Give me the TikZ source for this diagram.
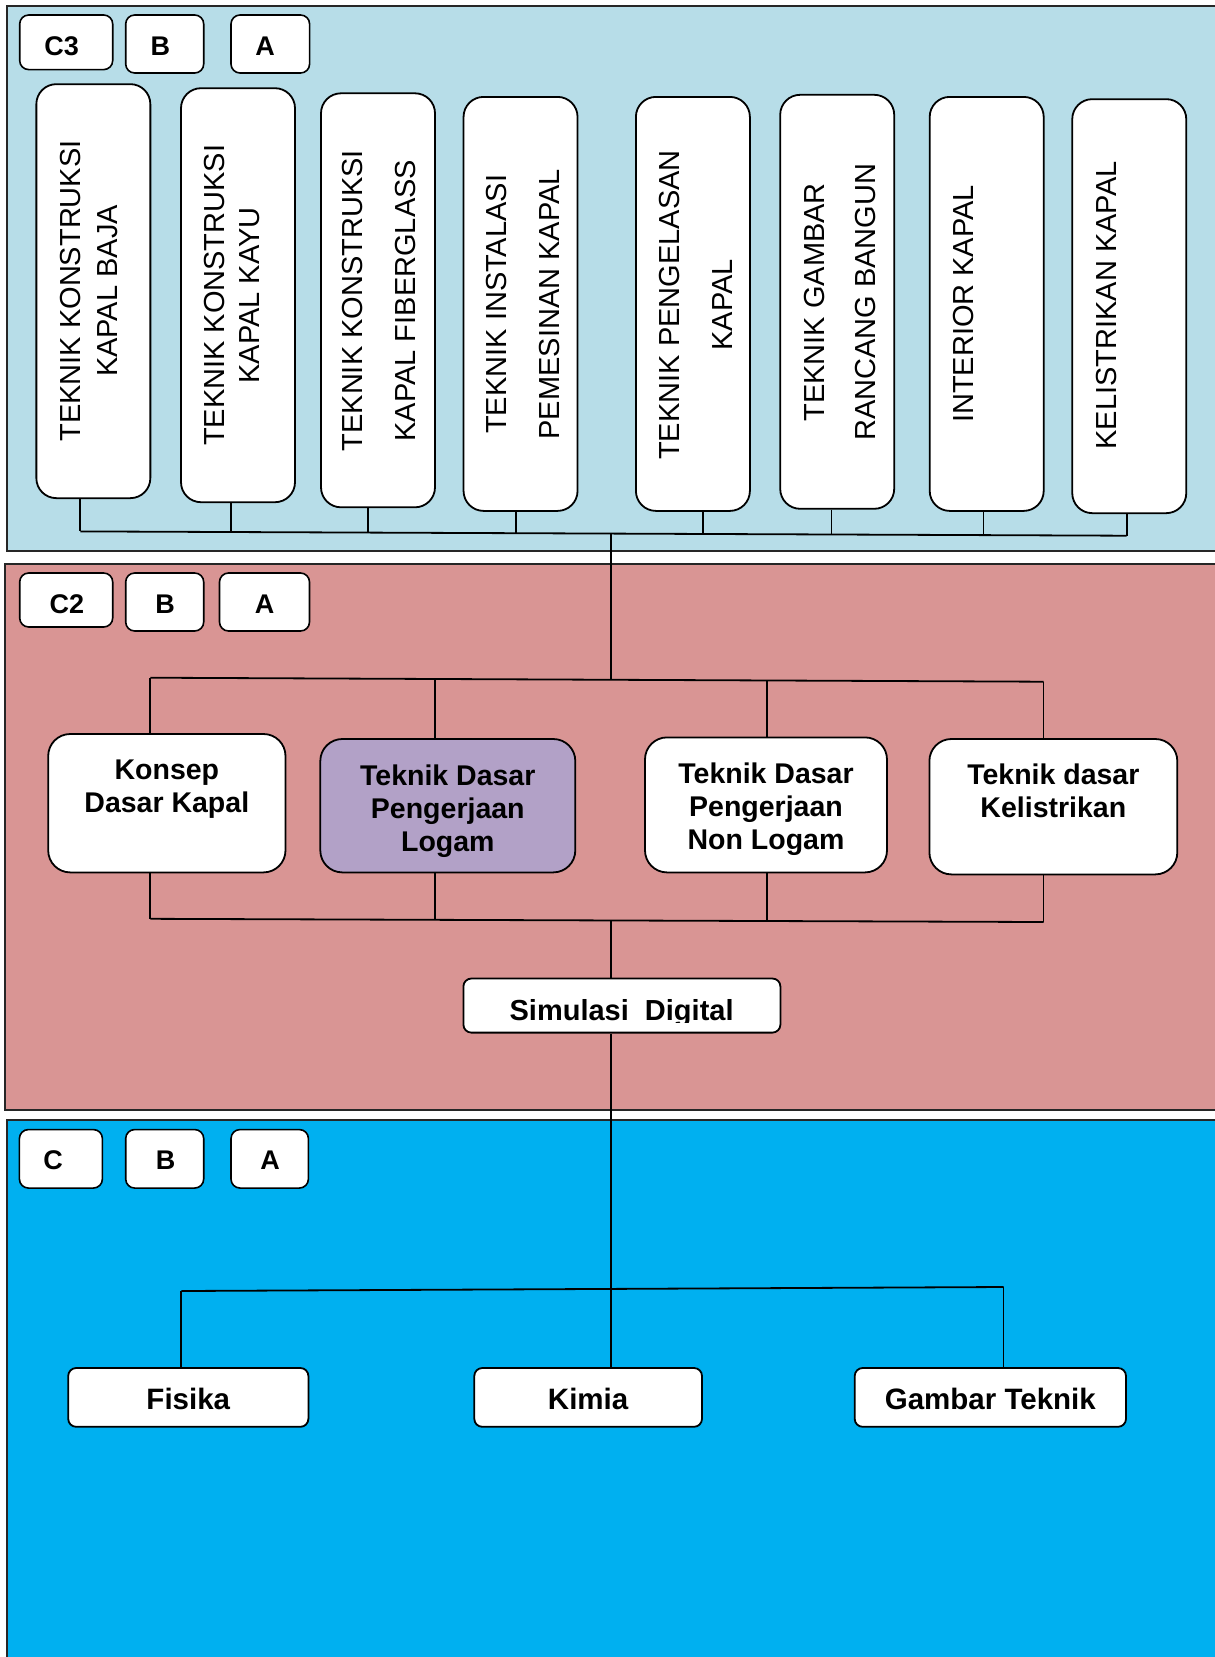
\documentclass[tikz,border=0pt]{standalone}
\usepackage{fontspec}
\setmainfont{Liberation Sans}
\usetikzlibrary{calc}
\definecolor{paneltop}{HTML}{B7DDE8}
\definecolor{panelmid}{HTML}{D99594}
\definecolor{panelbot}{HTML}{00B0F0}
\definecolor{lilac}{HTML}{B2A1C7}
\begin{document}
\begin{tikzpicture}[x=1pt,y=-1pt,
  panel/.style={draw=black!85, line width=2pt},
  lbl/.style={draw=black, line width=1.6pt, fill=white, rounded corners=9pt, inner sep=0pt},
  lbltext/.style={anchor=base, inner sep=0pt, font=\fontsize{27}{30}\selectfont\bfseries},
  tallbox/.style={draw=black, line width=1.8pt, fill=white, rounded corners=20pt, inner sep=0pt,
    minimum width=114pt, minimum height=414pt},
  vtext/.style={rotate=90, align=center, inner sep=0pt},
  midbox/.style={draw=black, line width=1.8pt, fill=white, rounded corners=22pt, inner sep=0pt},
  midtext/.style={align=center, inner sep=0pt, anchor=north, font=\fontsize{28.5}{33}\selectfont\bfseries},
  lowbox/.style={draw=black, line width=1.8pt, fill=white, rounded corners=8pt, inner sep=0pt,
    minimum height=58.8pt, text height=25pt, text depth=0pt, font=\fontsize{29.5}{33}\selectfont\bfseries},
  link/.style={draw=black, line width=1.8pt},
]
\useasboundingbox (0,0) rectangle (1215,1657);
\clip (0,0) rectangle (1215,1657);
\fill[white] (0,0) rectangle (1215,1657);

% panels
\path[panel, fill=paneltop] (7.4,5.7) rectangle (1225,551);
\path[panel, fill=panelmid] (5.3,564) rectangle (1225,1109.5);
\path[panel, fill=panelbot] (7.4,1120) rectangle (1225,1675);

% ---------- top panel ----------
\node[lbl, minimum width=93pt, minimum height=54.6pt] (c3) at (66.2,42.3) {};
\node[lbl, minimum width=78pt, minimum height=58pt] (b3) at (164.7,44) {};
\node[lbl, minimum width=78.6pt, minimum height=58pt] (a3) at (270.3,44) {};
\node[lbltext] (c3t) at (61.7,55.4) {C3};
\node[lbltext] (b3t) at (160.3,55.4) {B};
\node[lbltext] (a3t) at (265,55.4) {A};

\node[tallbox] (t1) at (93.35,291.15) {};
\node[tallbox] (t2) at (238,295.2) {};
\node[tallbox] (t3) at (378,300.3) {};
\node[tallbox] (t4) at (520.55,303.9) {};
\node[tallbox] (t5) at (692.9,303.9) {};
\node[tallbox] (t6) at (837.2,301.8) {};
\node[tallbox] (t7) at (986.7,303.9) {};
\node[tallbox] (t8) at (1129.25,306.15) {};

\node[vtext, font=\fontsize{29}{37.7}\selectfont] (t1t) at (89,291) {TEKNIK KONSTRUKSI\\KAPAL BAJA};
\node[vtext, font=\fontsize{29}{35.6}\selectfont] (t2t) at (232,295.3) {TEKNIK KONSTRUKSI\\KAPAL KAYU};
\node[vtext, font=\fontsize{29}{53}\selectfont] (t3t) at (379.4,300.7) {TEKNIK KONSTRUKSI\\KAPAL FIBERGLASS};
\node[vtext, font=\fontsize{29}{53}\selectfont] (t4t) at (523.5,304.3) {TEKNIK INSTALASI\\PEMESINAN KAPAL};
\node[vtext, font=\fontsize{29}{53}\selectfont] (t5t) at (696,305) {TEKNIK PENGELASAN\\KAPAL};
\node[vtext, font=\fontsize{29}{50.7}\selectfont] (t6t) at (840.3,302.3) {TEKNIK GAMBAR\\RANCANG BANGUN};
\node[vtext, font=\fontsize{29}{35}\selectfont] (t7t) at (963.5,304) {INTERIOR KAPAL};
\node[vtext, font=\fontsize{29}{35}\selectfont] (t8t) at (1106.3,305.5) {KELISTRIKAN KAPAL};

% top bus coordinates
\coordinate (s1) at (80.3,531.4);
\coordinate (s2) at (231.3,532.0);
\coordinate (s3) at (367.7,532.6);
\coordinate (s4) at (516,533.2);
\coordinate (s5) at (703,534.0);
\coordinate (s6) at (831.4,534.5);
\coordinate (s7) at (983.5,535.1);
\coordinate (s8) at (1126.7,535.7);
\coordinate (m0) at (610.6,533.6);

% ---------- middle panel ----------
\node[lbl, minimum width=93pt, minimum height=54pt] (c2) at (66.2,600) {};
\node[lbl, minimum width=78pt, minimum height=58pt] (b2) at (164.7,602) {};
\node[lbl, minimum width=90pt, minimum height=58pt] (a2) at (264.5,602) {};
\node[lbltext] (c2t) at (66.8,613) {C2};
\node[lbltext] (b2t) at (165,613) {B};
\node[lbltext] (a2t) at (264.6,613) {A};

\node[midbox, minimum width=237.3pt, minimum height=138.4pt] (k1) at (166.85,803.2) {};
\node[midbox, fill=lilac, minimum width=255pt, minimum height=133.4pt] (k2) at (447.8,805.7) {};
\node[midbox, minimum width=242pt, minimum height=135pt] (k3) at (766,804.9) {};
\node[midbox, minimum width=247.9pt, minimum height=135.4pt] (k4) at (1053.35,806.7) {};

\node[midtext] (k1t) at ($(k1.north)+(0,26.3)$) {Konsep\\Dasar Kapal};
\node[midtext] (k2t) at ($(k2.north)+(0,26.3)$) {Teknik Dasar\\Pengerjaan\\Logam};
\node[midtext] (k3t) at ($(k3.north)+(0,26.1)$) {Teknik Dasar\\Pengerjaan\\Non Logam};
\node[midtext] (k4t) at ($(k4.north)+(0,25.8)$) {Teknik dasar\\Kelistrikan};

\node[draw=black, line width=1.8pt, fill=white, rounded corners=8pt, inner sep=0pt,
  minimum width=317pt, minimum height=54.1pt] (sim) at (621.9,1005.55) {};
\begin{scope}
  \clip (463,975) rectangle (781,1022);
  \node[anchor=base, inner sep=0pt, font=\fontsize{29}{33}\selectfont\bfseries] (simt) at (621.6,1020.6) {Simulasi\ \ Digital};
\end{scope}

\coordinate (q1) at (150.3,677.7);
\coordinate (q2) at (435,679.0);
\coordinate (m1) at (610.6,679.8);
\coordinate (q3) at (766.7,680.5);
\coordinate (q4) at (1043.5,681.7);

\coordinate (r1) at (150.3,918.8);
\coordinate (r2) at (435,919.8);
\coordinate (m2) at (610.6,920.4);
\coordinate (r3) at (766.7,921.0);
\coordinate (r4) at (1043.5,922.0);

% ---------- bottom panel ----------
\node[lbl, minimum width=83pt, minimum height=58.5pt] (c1) at (60.9,1158.8) {};
\node[lbl, minimum width=78pt, minimum height=58.5pt] (b1) at (164.7,1158.8) {};
\node[lbl, minimum width=77.4pt, minimum height=58.5pt] (a1) at (269.7,1158.8) {};
\node[lbltext] (c1t) at (53,1169.3) {C};
\node[lbltext] (b1t) at (165.5,1169.3) {B};
\node[lbltext] (a1t) at (270,1169.3) {A};

\node[lowbox, minimum width=240.2pt] (f1) at (188.3,1397.4) {Fisika};
\node[lowbox, minimum width=227.7pt] (f2) at (588.15,1397.4) {Kimia};
\node[lowbox, minimum width=271.3pt] (f3) at (990.35,1397.4) {Gambar Teknik};

\coordinate (u1) at (181.3,1291);
\coordinate (u2) at (1003.5,1287);

% ---------- connectors ----------
\draw[link] (s1) -- (s8);
\foreach \i in {1,...,8} {\draw[link] (t\i.south -| s\i) -- (s\i);}
\draw[link] (m0) -- (m1);

\draw[link] (q1) -- (q4);
\draw[link] (q1) -- (q1 |- k1.north);
\draw[link] (q2) -- (q2 |- k2.north);
\draw[link] (q3) -- (q3 |- k3.north);
\draw[link] (q4) -- (q4 |- k4.north);

\draw[link] (r1) -- (r4);
\draw[link] (r1) -- (r1 |- k1.south);
\draw[link] (r2) -- (r2 |- k2.south);
\draw[link] (r3) -- (r3 |- k3.south);
\draw[link] (r4) -- (r4 |- k4.south);

\draw[link] (m2) -- (m2 |- sim.north);
\draw[link] (sim.south -| m2) -- (f2.north -| m2);

\draw[link] (u1) -- (u2);
\draw[link] (u1) -- (u1 |- f1.north);
\draw[link] (u2) -- (u2 |- f3.north);
\end{tikzpicture}
\end{document}
